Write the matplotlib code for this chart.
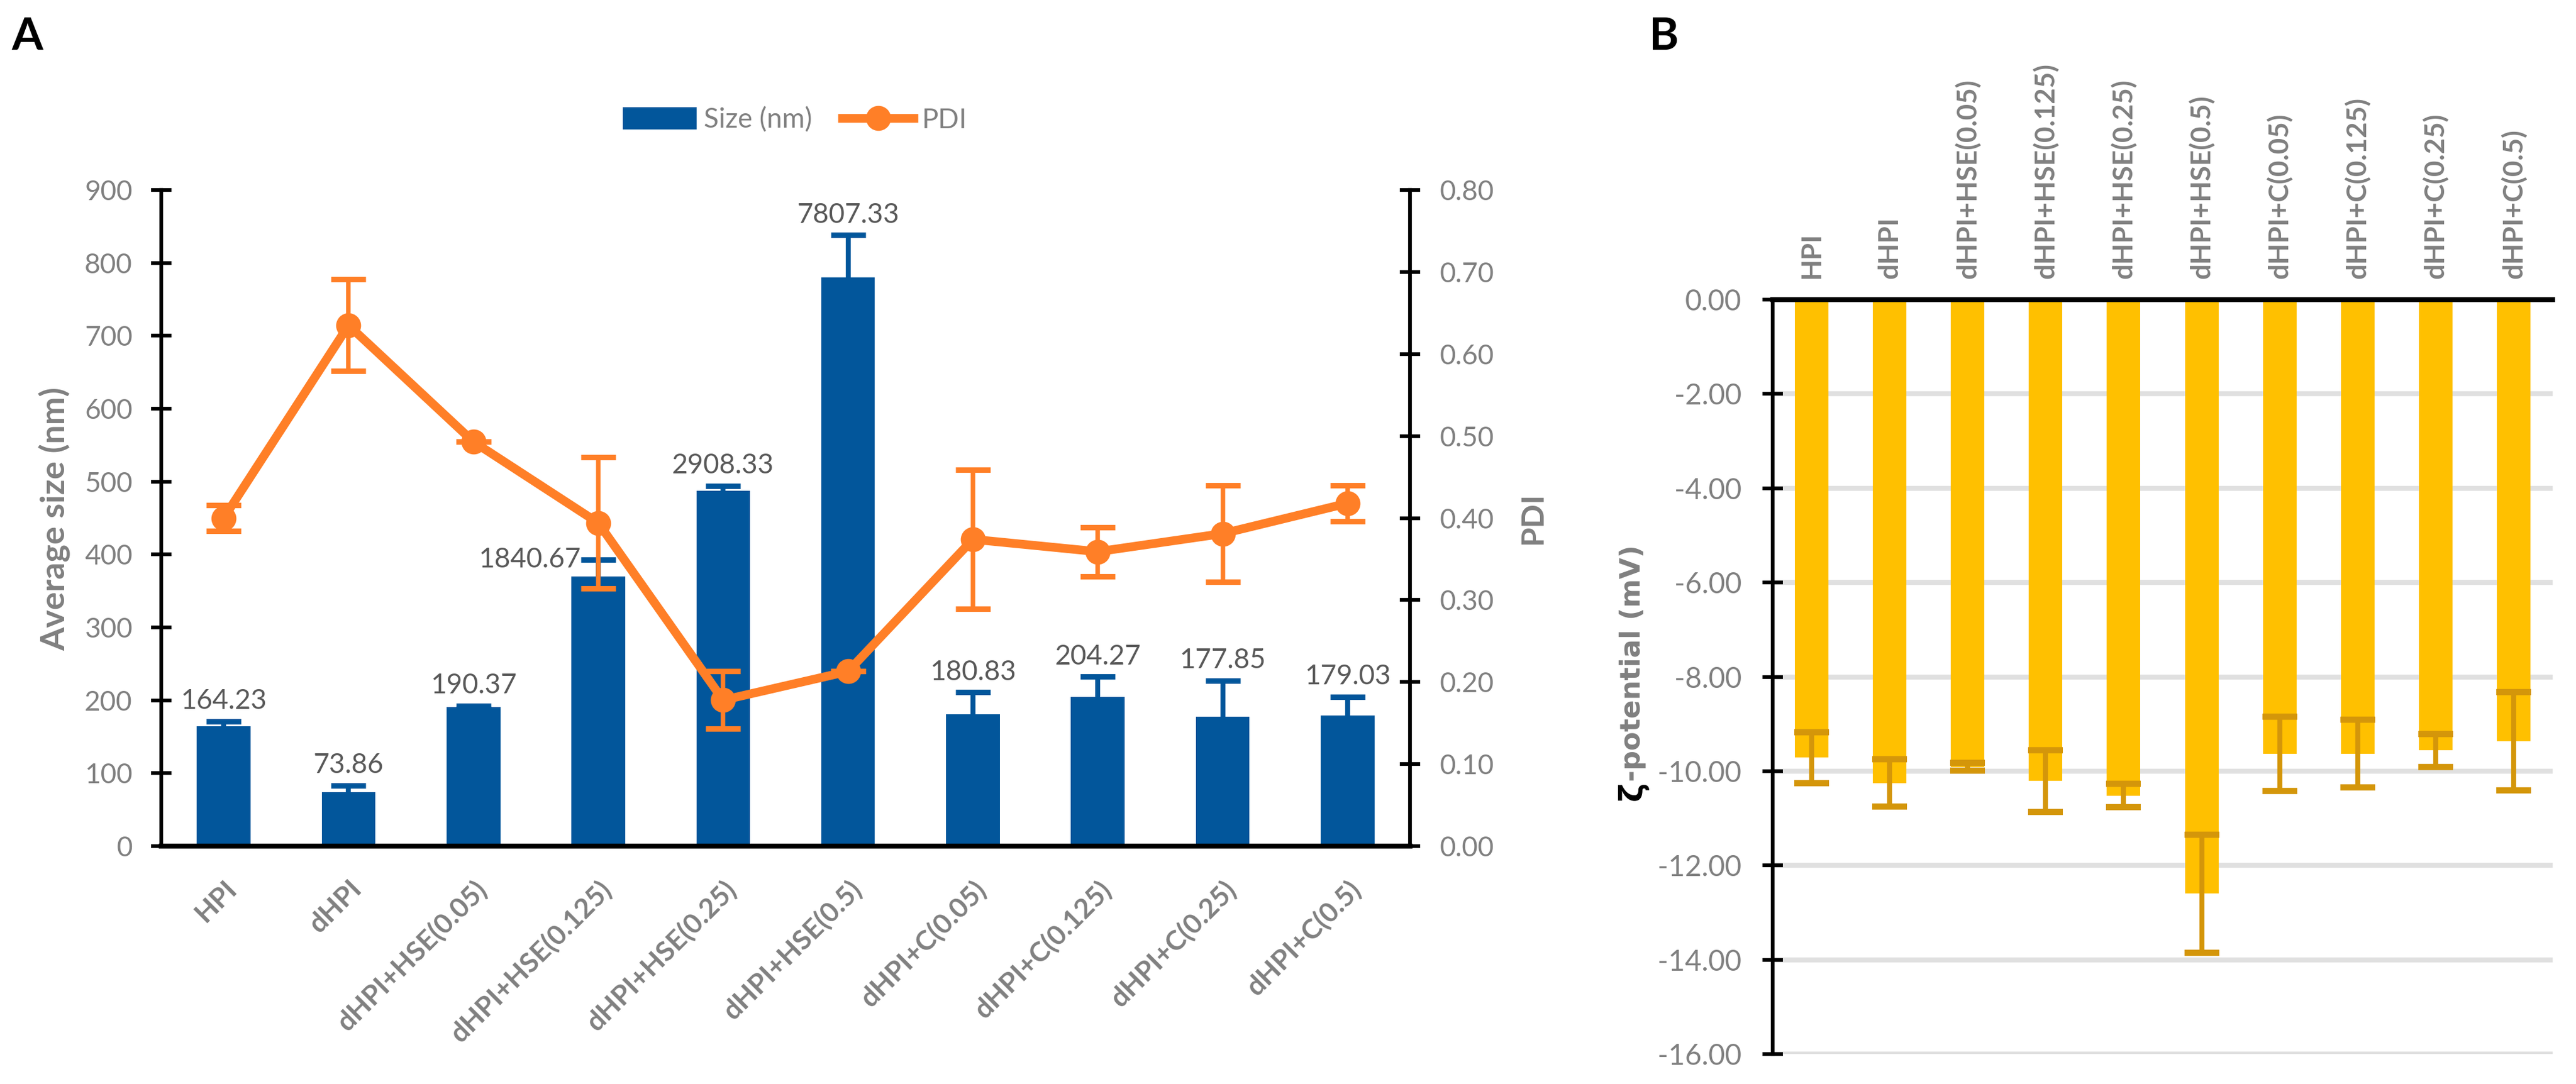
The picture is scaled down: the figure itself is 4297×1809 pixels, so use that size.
import numpy as np
import matplotlib.pyplot as plt
from matplotlib.patches import Patch
from matplotlib.lines import Line2D

plt.rcParams['font.family'] = ['Lato', 'DejaVu Sans']
plt.rcParams['axes.unicode_minus'] = False

# ---- data ----
categories = ['HPI', 'dHPI', 'dHPI+HSE(0.05)', 'dHPI+HSE(0.125)', 'dHPI+HSE(0.25)',
              'dHPI+HSE(0.5)', 'dHPI+C(0.05)', 'dHPI+C(0.125)', 'dHPI+C(0.25)', 'dHPI+C(0.5)']

# panel A: bar heights as drawn (left axis), error bars and the printed labels
size_bar = [164.23, 73.86, 190.37, 370, 487, 780, 180.83, 204.27, 177.85, 179.03]
size_err = [7, 9, 2, 23, 7, 58, 30, 28, 49, 26]
size_labels = ['164.23', '73.86', '190.37', '1840.67', '2908.33', '7807.33',
               '180.83', '204.27', '177.85', '179.03']

pdi = [0.400, 0.635, 0.493, 0.394, 0.178, 0.213, 0.374, 0.359, 0.381, 0.418]
pdi_err = [0.016, 0.056, 0.0, 0.080, 0.035, 0.0, 0.085, 0.030, 0.059, 0.022]

# panel B: zeta potential
zeta = [-9.71, -10.25, -9.91, -10.21, -10.52, -12.60, -9.63, -9.63, -9.56, -9.37]
zeta_err = [0.54, 0.50, 0.08, 0.65, 0.25, 1.25, 0.79, 0.72, 0.35, 1.04]

BLUE = '#02569B'
ORANGE = '#FF7F27'
GOLD = '#FFC000'
GOLD_ERR = '#D4960A'
GRAY = '#808080'
DARKGRAY = '#595959'

W, H = 4297, 1809
fig = plt.figure(figsize=(W / 300, H / 300), dpi=300)

x = np.arange(len(categories))

# ================= Panel A =================
axA = fig.add_axes([269 / W, 1 - 1412 / H, 2083 / W, 1095 / H])
axA.bar(x, size_bar, width=0.43, color=BLUE, zorder=2)
axA.errorbar(x, size_bar, yerr=size_err, fmt='none', ecolor=BLUE,
             elinewidth=2, capsize=7, capthick=2.2, zorder=3)
axA.set_xlim(-0.5, len(categories) - 0.5)
axA.set_ylim(0, 900)
axA.set_yticks(np.arange(0, 901, 100))
for s in ['top', 'right']:
    axA.spines[s].set_visible(False)
for s in ['left', 'bottom']:
    axA.spines[s].set_color('black')
    axA.spines[s].set_linewidth(1.5)
axA.spines['bottom'].set_linewidth(2)
axA.tick_params(axis='y', direction='inout', length=8, width=1.5, color='black',
                labelcolor=GRAY, labelsize=11, pad=7.5)
axA.set_xticks(x)
axA.set_xticklabels(categories, rotation=45, ha='right', rotation_mode='anchor',
                    fontweight='bold', color=GRAY, fontsize=11)
axA.tick_params(axis='x', length=0, pad=12)

# data labels above the bars
for i, lab in enumerate(size_labels):
    top = size_bar[i] + size_err[i]
    if lab == '1840.67':
        axA.annotate(lab, (x[i], top), xytext=(-7, 0), textcoords='offset points',
                     ha='right', va='center', fontsize=11, color=DARKGRAY, zorder=5)
    else:
        axA.annotate(lab, (x[i], top), xytext=(0, 5), textcoords='offset points',
                     ha='center', va='baseline', fontsize=11, color=DARKGRAY, zorder=5)

# PDI on secondary axis
ax2 = axA.twinx()
ax2.set_ylim(0, 0.8)
ax2.set_yticks(np.arange(0, 0.81, 0.1))
ax2.set_yticklabels([f'{v:.2f}' for v in np.arange(0, 0.81, 0.1)])
for s in ['top', 'left', 'bottom']:
    ax2.spines[s].set_visible(False)
ax2.spines['right'].set_color('black')
ax2.spines['right'].set_linewidth(1.5)
ax2.tick_params(axis='y', direction='inout', length=8, width=1.5, color='black',
                labelcolor=GRAY, labelsize=11, pad=8)
ax2.errorbar(x, pdi, yerr=pdi_err, color=ORANGE, lw=3.5, marker='o', ms=9,
             elinewidth=1.8, capsize=7, capthick=2.2, zorder=4)

handles = [Patch(color=BLUE),
           Line2D([], [], color=ORANGE, lw=3.5, marker='o', ms=9)]
axA.legend(handles, ['Size (nm)', 'PDI'], loc='center', bbox_to_anchor=(0.508, 1 + 117 / 1095),
           ncol=2, frameon=False, fontsize=11, handlelength=2.6, handletextpad=0.3,
           columnspacing=1.1, labelcolor=GRAY)

fig.text(92 / W, 1 - 866 / H, 'Average size (nm)', rotation=90, ha='center', va='center',
         fontsize=13.5, fontweight='bold', color=GRAY)
fig.text(2557 / W, 1 - 864 / H, 'PDI', rotation=90, ha='center', va='center',
         fontsize=12.5, fontweight='bold', color=GRAY)

# ================= Panel B =================
axB = fig.add_axes([2957 / W, 1 - 1759 / H, 1301 / W, 1259 / H])
axB.set_axisbelow(True)
axB.yaxis.grid(True, color='#E0E0E0', lw=2)
axB.bar(x, zeta, width=0.43, color=GOLD, zorder=2)
axB.errorbar(x, zeta, yerr=zeta_err, fmt='none', ecolor=GOLD_ERR,
             elinewidth=2, capsize=7, capthick=2.5, zorder=3)
axB.set_xlim(-0.5, len(categories) - 0.5)
axB.set_ylim(-16, 0)
axB.set_yticks(np.arange(-16, 0.1, 2))
axB.set_yticklabels([f'{v:.2f}' for v in np.arange(-16, 0.1, 2)])
for s in ['bottom', 'right']:
    axB.spines[s].set_visible(False)
for s in ['top', 'left']:
    axB.spines[s].set_color('black')
    axB.spines[s].set_linewidth(1.5)
axB.spines['top'].set_linewidth(2)
axB.tick_params(axis='y', direction='inout', length=8, width=1.5, color='black',
                labelcolor=GRAY, labelsize=11.5, pad=8.5)
axB.xaxis.tick_top()
axB.set_xticks(x)
axB.set_xticklabels(categories, rotation=90, ha='center', va='bottom',
                    fontweight='bold', color=GRAY, fontsize=11)
axB.tick_params(axis='x', length=0, pad=8.5)

# zeta label: black zeta followed by grey text, placed end to end
zx, zy = 2724 / W, 1 - 1336 / H
t_zeta = fig.text(zx, zy, 'ζ', rotation=90, rotation_mode='anchor', ha='left',
                  va='center', fontsize=13, fontweight='bold', color='black',
                  family='DejaVu Sans')
fig.canvas.draw()
bb = t_zeta.get_window_extent()
fig.text(zx, bb.y1 / fig.bbox.height, '-potential (mV)', rotation=90, rotation_mode='anchor',
         ha='left', va='center', fontsize=11, fontweight='bold', color=GRAY,
         family='DejaVu Sans')

# panel letters
fig.text(19 / W, 1 - 83 / H, 'A', fontsize=18, fontweight='bold', color='black', va='baseline')
fig.text(2751 / W, 1 - 83 / H, 'B', fontsize=18, fontweight='bold', color='black', va='baseline')

fig.savefig('out.png', dpi=300)
